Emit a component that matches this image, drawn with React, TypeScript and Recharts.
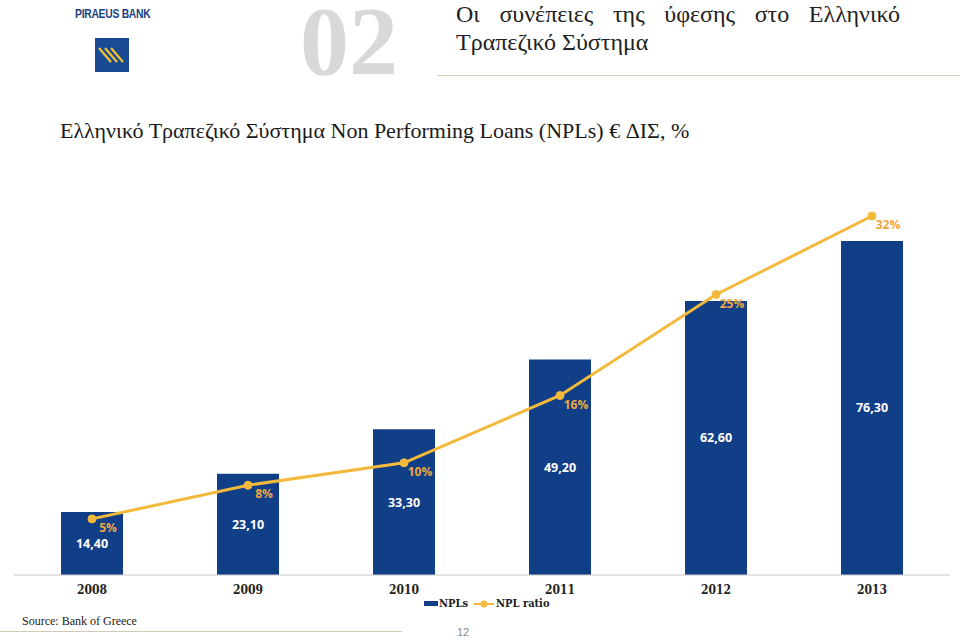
import { ComposedChart, Bar, Line, XAxis, YAxis, LabelList } from 'recharts';

const years = ['2008', '2009', '2010', '2011', '2012', '2013'];
const npls = [14.4, 23.1, 33.3, 49.2, 62.6, 76.3];
const nplRatio = [5, 8, 10, 16, 25, 32];

const data = years.map((year, i) => ({ year, npls: npls[i], ratio: nplRatio[i] }));

const BLUE = '#113f87';
const GOLD = '#f3b93a';
const LABEL_GOLD = '#f0a640';

const fmtComma = (v: number) => v.toFixed(2).replace('.', ',');

const RatioLabel = (props: any) => {
  const { x, y, value } = props;
  return (
    <text
      x={x + 16}
      y={y + 10}
      textAnchor="middle"
      dominantBaseline="middle"
      fill={LABEL_GOLD}
      fontSize={12}
      fontWeight="bold"
      fontFamily="'Open Sans', sans-serif"
    >
      {value}%
    </text>
  );
};

// legend sits under the axis labels, outside the plot offset
const LegendBox = () => (
  <div
    style={{
      position: 'absolute',
      left: 424,
      top: 597,
      display: 'flex',
      alignItems: 'center',
      fontFamily: "'DejaVu Serif Condensed', 'DejaVu Serif', serif",
      fontWeight: 'bold',
      fontSize: 11,
      color: '#222',
    }}
  >
    <span style={{ display: 'inline-block', width: 14, height: 5, background: BLUE, marginRight: 1 }} />
    <span style={{ marginRight: 6 }}>NPLs</span>
    <svg width={20} height={10} style={{ marginRight: 2 }}>
      <line x1={0} y1={5} x2={20} y2={5} stroke={GOLD} strokeWidth={2} />
      <circle cx={10} cy={5} r={3.5} fill={GOLD} />
    </svg>
    <span>NPL ratio</span>
  </div>
);

export default function App() {
  return (
    <div
      style={{
        position: 'absolute',
        left: 0,
        top: 0,
        width: 960,
        height: 640,
        background: '#fff',
        overflow: 'hidden',
        fontFamily: "'Liberation Serif', serif",
      }}
    >
      {/* logo */}
      <div
        style={{
          position: 'absolute',
          left: 75,
          top: 7,
          fontFamily: "'Liberation Sans', sans-serif",
          fontSize: 12,
          fontWeight: 600,
          color: '#1b3f7e',
          letterSpacing: -0.3,
          transform: 'scaleX(0.86)',
          transformOrigin: 'left center',
          whiteSpace: 'nowrap',
        }}
      >
        PIRAEUS BANK
      </div>
      <svg style={{ position: 'absolute', left: 95, top: 38 }} width={34} height={34}>
        <rect x={0} y={0} width={34} height={34} fill="#1a4a93" />
        <g stroke="#f2c230" strokeWidth={2.2}>
          <line x1={4} y1={10} x2={16} y2={24} />
          <line x1={10} y1={10} x2={22} y2={24} />
          <line x1={16} y1={10} x2={28} y2={24} />
        </g>
      </svg>

      <div
        style={{
          position: 'absolute',
          left: 300,
          top: 2,
          fontFamily: "'Liberation Serif', serif",
          fontWeight: 'bold',
          fontSize: 98,
          color: '#d8d8d8',
          lineHeight: 0.8,
        }}
      >
        02
      </div>

      <div style={{ position: 'absolute', left: 456, top: 0, width: 444, fontSize: 24, color: '#222', lineHeight: '28px' }}>
        <div style={{ textAlign: 'justify', textAlignLast: 'justify' }}>Οι συνέπειες της ύφεσης στο Ελληνικό</div>
        <div>Τραπεζικό Σύστημα</div>
      </div>
      <div style={{ position: 'absolute', left: 438, top: 75, width: 522, height: 1, background: '#d4c9b6' }} />

      <div style={{ position: 'absolute', left: 60, top: 118, fontSize: 22, color: '#1a1a1a', whiteSpace: 'nowrap' }}>
        Ελληνικό Τραπεζικό Σύστημα Non Performing Loans (NPLs) € ΔΙΣ, %
      </div>

      <div style={{ position: 'absolute', left: 0, top: 0 }}>
        <ComposedChart width={960} height={640} data={data} margin={{ top: 216, right: 10, bottom: 35, left: 14 }}>
          <XAxis
            dataKey="year"
            height={30}
            tickLine={false}
            axisLine={{ stroke: '#c8c8c8' }}
            tick={{ fill: '#222', fontSize: 12, fontWeight: 'bold', fontFamily: "'DejaVu Serif Condensed', 'DejaVu Serif', serif" }}
            tickMargin={4}
          />
          <YAxis yAxisId="left" hide domain={[0, 82]} />
          <YAxis yAxisId="right" orientation="right" hide domain={[0, 32]} />
          <Bar yAxisId="left" dataKey="npls" name="NPLs" fill={BLUE} barSize={62} isAnimationActive={false}>
            <LabelList
              dataKey="npls"
              position="center"
              formatter={(v: any) => fmtComma(Number(v))}
              fill="#fff"
              fontSize={12.5}
              fontWeight="bold"
              fontFamily="'Open Sans', sans-serif"
            />
          </Bar>
          <Line
            yAxisId="right"
            dataKey="ratio"
            name="NPL ratio"
            stroke={GOLD}
            strokeWidth={3}
            dot={{ r: 4, fill: GOLD, stroke: GOLD, strokeWidth: 1 }}
            isAnimationActive={false}
          >
            <LabelList dataKey="ratio" content={<RatioLabel />} />
          </Line>
        </ComposedChart>
      </div>
      <LegendBox />

      <div style={{ position: 'absolute', left: 22, top: 614, fontSize: 12, color: '#222' }}>Source: Bank of Greece</div>
      <div style={{ position: 'absolute', left: 0, top: 631, width: 402, height: 1, background: '#d4c9b6' }} />
      <div style={{ position: 'absolute', left: 457, top: 626, fontSize: 11, color: '#888', fontFamily: "'Liberation Sans', sans-serif" }}>12</div>
    </div>
  );
}
